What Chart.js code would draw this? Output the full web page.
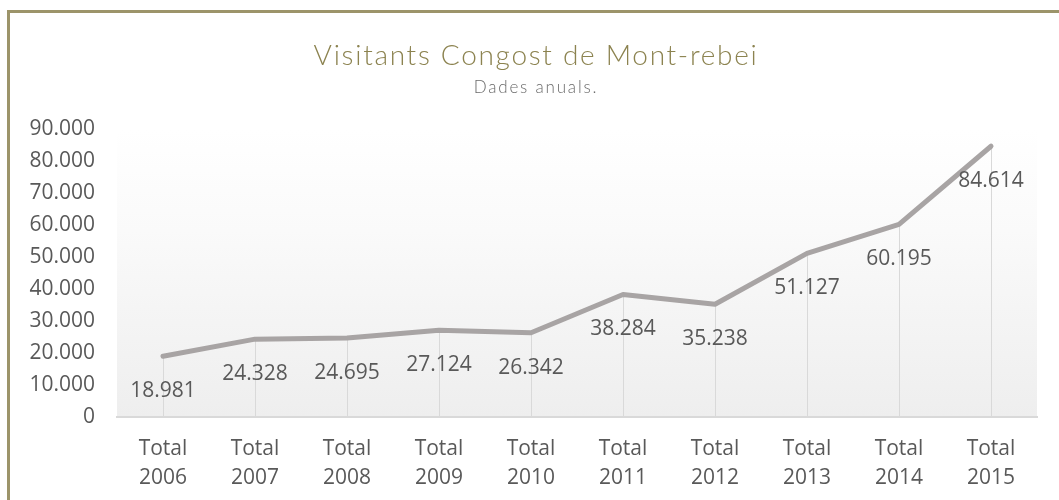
<!DOCTYPE html>
<html>
<head>
<meta charset="utf-8">
<script src="https://cdn.jsdelivr.net/npm/chart.js@4/dist/chart.umd.min.js"></script>
<style>
  html, body { margin: 0; padding: 0; background: #fff; }
  #wrap { position: relative; width: 1059px; height: 500px; overflow: hidden; }
  #frame { position: absolute; left: 7px; top: 10px; width: 1100px; height: 600px;
           border-left: 3px solid #9c946a; border-top: 3px solid #9c946a; box-sizing: border-box; }
  canvas { position: absolute; left: 0; top: 0; }
</style>
</head>
<body>
<div id="wrap">
  <div id="frame"></div>
  <canvas id="chart" width="1059" height="500"></canvas>
</div>
<script>
// Data
const years = ['2006', '2007', '2008', '2009', '2010', '2011', '2012', '2013', '2014', '2015'];
const visitors = [18981, 24328, 24695, 27124, 26342, 38284, 35238, 51127, 60195, 84614];
const yMax = 90000;
const yStep = 10000;

const titleText = 'Visitants Congost de Mont-rebei';
const subtitleText = 'Dades anuals.';

const labelColor = '#595959';
const baseFont = "'Open Sans', 'DejaVu Sans', sans-serif";
const titleFont = "Lato, 'Open Sans', sans-serif";

function fmt(n) {
    return String(n).replace(/\B(?=(\d{3})+(?!\d))/g, '.');
}

// plot background: soft vertical gradient
const plotBackground = {
    id: 'plotBackground',
    beforeDraw(chart) {
        const { ctx, chartArea: a } = chart;
        const g = ctx.createLinearGradient(0, a.top, 0, a.bottom);
        g.addColorStop(0, '#ffffff');
        g.addColorStop(0.35, '#fafafa');
        g.addColorStop(1, '#eeeeee');
        ctx.save();
        ctx.fillStyle = g;
        ctx.fillRect(a.left, a.top, a.right - a.left, a.bottom - a.top);
        ctx.restore();
    }
};

// title and subtitle with wide letter spacing
const spacedTitle = {
    id: 'spacedTitle',
    afterDraw(chart) {
        const { ctx } = chart;
        const cx = 536;
        ctx.save();
        ctx.textAlign = 'center';
        ctx.textBaseline = 'middle';
        ctx.letterSpacing = '1.7px';
        ctx.fillStyle = '#8c8350';
        ctx.font = '300 28px ' + titleFont;
        ctx.fillText(titleText, cx, 56);
        ctx.letterSpacing = '1.8px';
        ctx.fillStyle = '#6a6a6a';
        ctx.font = '300 17px ' + titleFont;
        ctx.fillText(subtitleText, cx, 88);
        ctx.restore();
    }
};

// drop lines from each point to the baseline
const dropLines = {
    id: 'dropLines',
    beforeDatasetsDraw(chart) {
        const { ctx } = chart;
        const yScale = chart.scales.y;
        const meta = chart.getDatasetMeta(0);
        ctx.save();
        ctx.strokeStyle = '#d9d9d9';
        ctx.lineWidth = 1;
        meta.data.forEach(pt => {
            ctx.beginPath();
            ctx.moveTo(Math.round(pt.x) + 0.5, pt.y);
            ctx.lineTo(Math.round(pt.x) + 0.5, yScale.getPixelForValue(0));
            ctx.stroke();
        });
        ctx.restore();
    }
};

// value labels below each point
const valueLabels = {
    id: 'valueLabels',
    afterDatasetsDraw(chart) {
        const { ctx } = chart;
        const meta = chart.getDatasetMeta(0);
        ctx.save();
        ctx.fillStyle = labelColor;
        ctx.font = '21px ' + baseFont;
        ctx.textAlign = 'center';
        ctx.textBaseline = 'middle';
        meta.data.forEach((pt, i) => {
            ctx.fillText(fmt(visitors[i]), pt.x, pt.y + 35);
        });
        ctx.restore();
    }
};

new Chart(document.getElementById('chart'), {
    type: 'line',
    data: {
        labels: years.map(y => ['Total', y]),
        datasets: [{
            data: visitors,
            borderColor: '#a8a4a4',
            borderWidth: 5,
            pointRadius: 0,
            tension: 0,
            borderCapStyle: 'round',
            borderJoinStyle: 'round'
        }]
    },
    options: {
        responsive: false,
        animation: false,
        layout: { padding: { left: 0, right: 22, top: 129, bottom: 0 } },
        plugins: {
            legend: { display: false },
            tooltip: { enabled: false }
        },
        scales: {
            x: {
                offset: true,
                grid: { display: false, drawTicks: false },
                border: { display: true, color: '#d9d9d9', width: 2 },
                ticks: {
                    color: labelColor,
                    font: { family: baseFont, size: 21, lineHeight: 1.35 },
                    padding: 18,
                    maxRotation: 0,
                    autoSkip: false
                },
                afterFit(scale) { scale.height = 83; }
            },
            y: {
                min: 0,
                max: yMax,
                grid: { display: false, drawTicks: false },
                border: { display: false },
                ticks: {
                    stepSize: yStep,
                    color: labelColor,
                    font: { family: baseFont, size: 21 },
                    padding: 22,
                    callback: v => fmt(v)
                },
                afterFit(scale) { scale.width = 117; }
            }
        }
    },
    plugins: [plotBackground, dropLines, valueLabels, spacedTitle]
});
</script>
</body>
</html>
